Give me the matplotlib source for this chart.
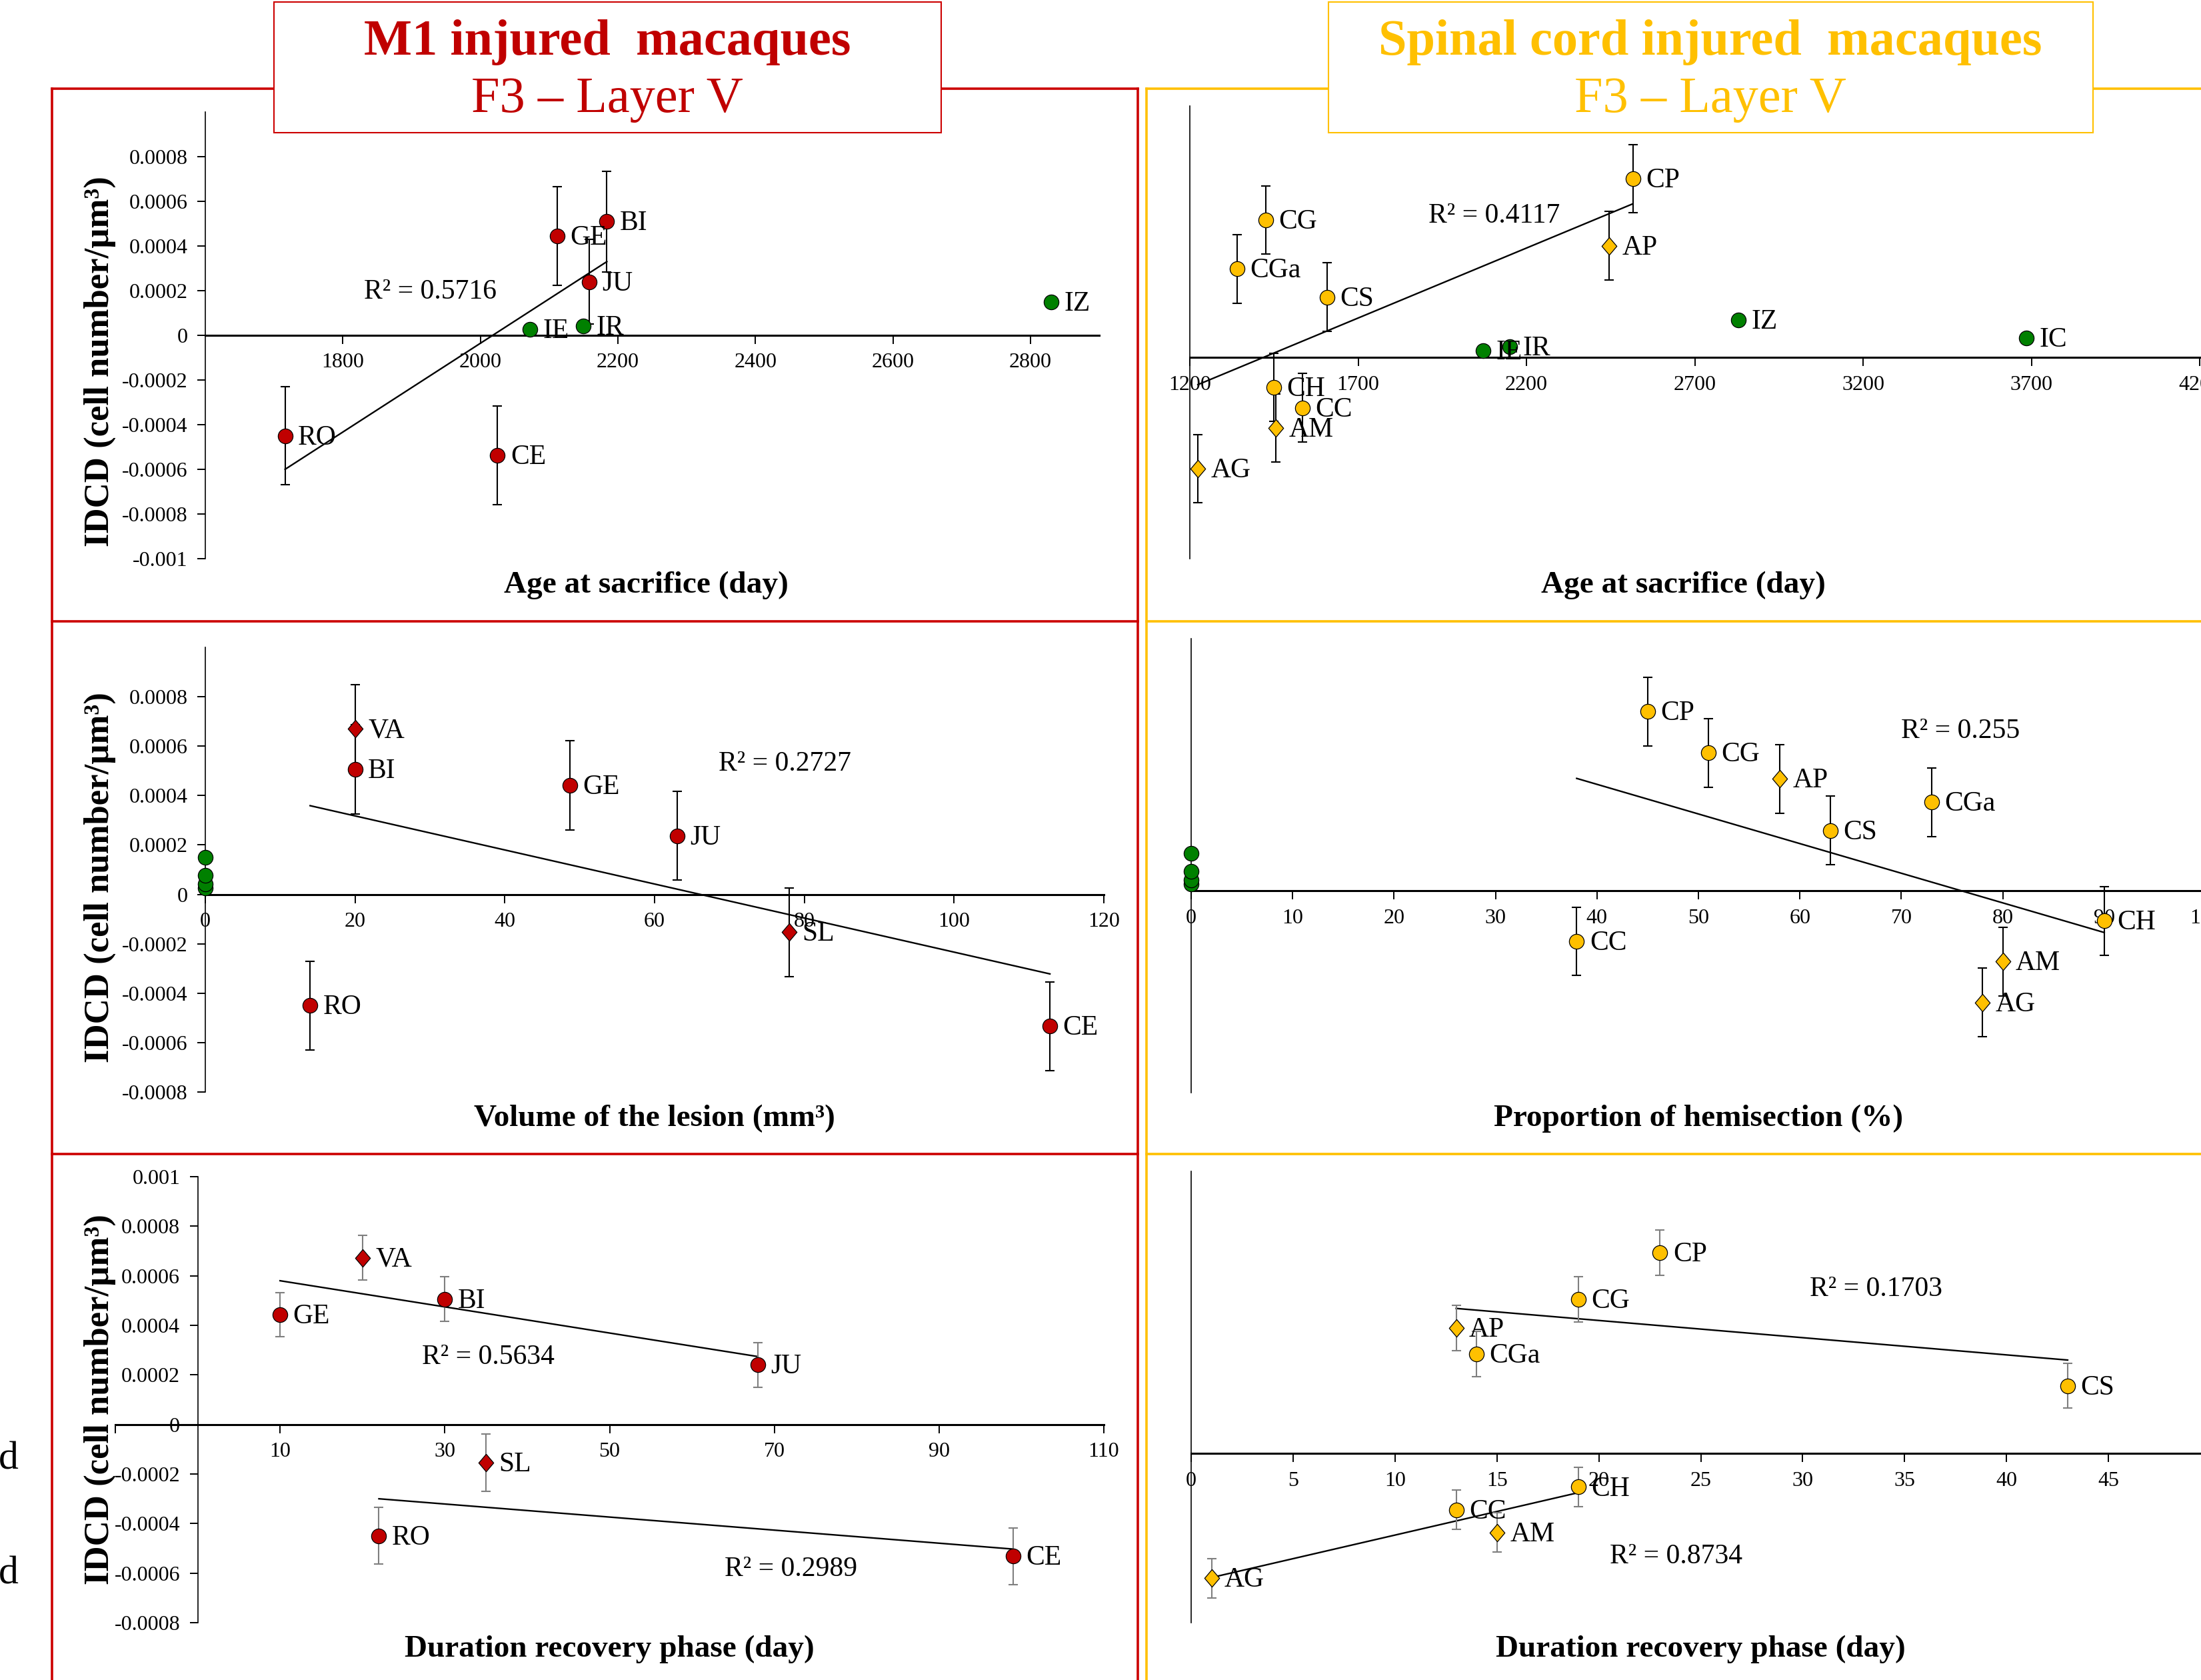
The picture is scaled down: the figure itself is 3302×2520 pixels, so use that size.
import matplotlib.pyplot as plt
from matplotlib.patches import Rectangle
from matplotlib.lines import Line2D

plt.rcParams['font.family'] = ['Liberation Serif', 'DejaVu Serif']

# ---------------- data : IDCD (cell number / µm3) ----------------
# intact controls (green)
ctrl_names = ['IE', 'IR', 'IC', 'IZ']
ctrl_idcd = [0.000027, 0.000043, 0.000078, 0.00015]
ctrl_err = [0.000008, 0.000008, 0.000008, 0.00001]
ctrl_age = [2072, 2150, 3686, 2830]

# M1 injured : age at sacrifice
m1_age_names = ['RO', 'CE', 'GE', 'BI', 'JU']
m1_age = [1716, 2025, 2112, 2184, 2158]
m1_age_idcd = [-0.00045, -0.000537, 0.000445, 0.00051, 0.00024]
m1_age_err = [0.00022, 0.00022, 0.000222, 0.000225, 0.00019]
m1_age_trend_x = [1716, 2184]
m1_age_trend_y = [-0.0006, 0.00033]
m1_age_r2 = 'R² = 0.5716'

# M1 injured : lesion volume
m1_vol_names = ['VA', 'BI', 'GE', 'JU', 'SL', 'RO', 'CE']
m1_vol = [20, 20, 48.7, 63, 78, 14, 112.8]
m1_vol_idcd = [0.00067, 0.000506, 0.000441, 0.000237, -0.000153, -0.00045, -0.000534]
m1_vol_err = [0.00018, 0.00018, 0.00018, 0.00018, 0.00018, 0.00018, 0.00018]
m1_vol_trend_x = [14, 112.8]
m1_vol_trend_y = [0.000359, -0.000322]
m1_vol_r2 = 'R² = 0.2727'

# M1 injured : duration of recovery phase
m1_rec_names = ['GE', 'VA', 'BI', 'JU', 'SL', 'RO', 'CE']
m1_rec = [10, 20, 30, 68, 35, 22, 99]
m1_rec_idcd = [0.000443, 0.000672, 0.000506, 0.00024, -0.000154, -0.000449, -0.000532]
m1_rec_err = [0.00009, 0.00009, 0.00009, 0.00009, 0.000115, 0.000115, 0.000115]
m1_rec_trend_hi_x = [10, 68]
m1_rec_trend_hi_y = [0.00058, 0.000274]
m1_rec_trend_lo_x = [22, 99]
m1_rec_trend_lo_y = [-0.0003, -0.000503]
m1_rec_r2_hi = 'R² = 0.5634'
m1_rec_r2_lo = 'R² = 0.2989'

# spinal cord injured
sc_names = ['CP', 'CG', 'CGa', 'CS', 'AP', 'CH', 'CC', 'AM', 'AG']
sc_idcd = [0.000711, 0.000547, 0.000352, 0.00024, 0.000444, -0.000119, -0.0002, -0.00028, -0.000442]
sc_err = [0.000136, 0.000136, 0.000136, 0.000136, 0.000136, 0.000136, 0.000136, 0.000136, 0.000136]
sc_age = [2516, 1425, 1340, 1607, 2445, 1449, 1534, 1455, 1224]
sc_age_trend_x = [1224, 2516]
sc_age_trend_y = [-0.000108, 0.000611]
sc_age_r2 = 'R² = 0.4117'

sc_hemi = [45, 51, 73, 63, 58, 90, 38, 80, 78]
sc_hemi_trend_x = [38, 90]
sc_hemi_trend_y = [0.000446, -0.000165]
sc_hemi_r2 = 'R² = 0.255'

sc_rec = [23, 19, 14, 43, 13, 19, 13, 15, 1]
sc_rec_err = [0.00008, 0.00008, 0.00008, 0.00008, 0.00008, 0.00007, 0.00007, 0.00007, 0.00007]
sc_rec_trend_hi_x = [13, 43]
sc_rec_trend_hi_y = [0.000514, 0.000331]
sc_rec_trend_lo_x = [1, 19]
sc_rec_trend_lo_y = [-0.00044, -0.000139]
sc_rec_r2_hi = 'R² = 0.1703'
sc_rec_r2_lo = 'R² = 0.8734'

diamond_ids = {'VA', 'SL', 'AP', 'AM', 'AG'}

yt_a = [0.0008, 0.0006, 0.0004, 0.0002, 0, -0.0002, -0.0004, -0.0006, -0.0008, -0.001]
yt_b = [0.0008, 0.0006, 0.0004, 0.0002, 0, -0.0002, -0.0004, -0.0006, -0.0008]
yt_e = [0.001, 0.0008, 0.0006, 0.0004, 0.0002, 0, -0.0002, -0.0004, -0.0006, -0.0008]

# ---------------- figure ----------------
W, H = 3302, 2520
DPI = 100
RED = '#C00000'
FRAME_RED = '#CC0000'
GOLD = '#FFC000'
GREEN = '#008000'
GREY = '#7F7F7F'

fig = plt.figure(figsize=(W / DPI, H / DPI), dpi=DPI)
fig.patch.set_facecolor('white')

DIAMOND = [(0, 1), (0.85, 0), (0, -1), (-0.85, 0), (0, 1)]


def fx(px):
    return px / W


def fy(py):
    return 1 - py / H


def add_ax(x0, y0, x1, y1):
    return fig.add_axes([fx(x0), fy(y1), (x1 - x0) / W, (y1 - y0) / H])


def setup(ax, xlim, ylim, xticks, yticks=None, ycross=None, xlabels=None):
    ax.set_xlim(xlim)
    ax.set_ylim(ylim)
    ax.patch.set_alpha(0)
    ax.spines['top'].set_visible(False)
    ax.spines['right'].set_visible(False)
    ax.spines['bottom'].set_position(('data', 0))
    ax.spines['bottom'].set_linewidth(2.2)
    ax.spines['left'].set_linewidth(1.2)
    if ycross is not None:
        ax.spines['left'].set_position(('data', ycross))
    ax.set_xticks(xticks)
    ax.set_xticklabels(xlabels if xlabels is not None else [str(t) for t in xticks])
    ax.tick_params(axis='x', direction='out', length=9, width=1.4, pad=10, labelsize=23)
    if yticks:
        ax.set_yticks(yticks)
        ax.set_yticklabels([f'{v:g}' for v in yticks])
        ax.tick_params(axis='y', direction='out', length=9, width=1.4, pad=10, labelsize=23)
    else:
        ax.set_yticks([])


def points(ax, names, xs, ys, errs, face, ecolor, labels=True):
    for n, xv, yv, ev in zip(names, xs, ys, errs):
        diamond = n in diamond_ids
        ax.errorbar([xv], [yv], yerr=[ev], fmt='none', ecolor=ecolor, elinewidth=1.5,
                    capsize=5, capthick=1.5, clip_on=False, zorder=3)
        ax.plot([xv], [yv], marker=DIAMOND if diamond else 'o', ms=19 if diamond else 16,
                mfc=face, mec='black', mew=0.9, ls='none', clip_on=False, zorder=4)
        if labels:
            ax.annotate(n, (xv, yv), xytext=(14, -2), textcoords='offset points',
                        fontsize=30, va='center', ha='left', zorder=5)


def trend(ax, xs, ys):
    ax.plot(xs, ys, color='black', lw=1.7, zorder=2)


# ---- panel A : M1, age ----
ax = add_ax(308, 168, 1649, 838)
setup(ax, (1600, 2900), (-0.001, 0.001), [1800, 2000, 2200, 2400, 2600, 2800], yt_a)
trend(ax, m1_age_trend_x, m1_age_trend_y)
points(ax, m1_age_names, m1_age, m1_age_idcd, m1_age_err, RED, 'black')
m1_ctrl = [0, 1, 3]
points(ax, [ctrl_names[i] for i in m1_ctrl], [ctrl_age[i] for i in m1_ctrl],
       [ctrl_idcd[i] for i in m1_ctrl], [ctrl_err[i] for i in m1_ctrl], GREEN, 'black')
ax.text(1927, 0.000194, m1_age_r2, fontsize=30, ha='center', va='center')

# ---- panel C : SCI, age ----
ax = add_ax(1785, 159, 3300, 838)
setup(ax, (1200, 4200), (-0.0008, 0.001), [1200, 1700, 2200, 2700, 3200, 3700, 4200])
trend(ax, sc_age_trend_x, sc_age_trend_y)
points(ax, sc_names, sc_age, sc_idcd, sc_err, GOLD, 'black')
points(ax, ctrl_names, ctrl_age, ctrl_idcd, ctrl_err, GREEN, 'black')
ax.text(2105, 0.000563, sc_age_r2, fontsize=30, ha='center', va='center')

# ---- panel B : M1, lesion volume ----
ax = add_ax(308, 971, 1656, 1638)
setup(ax, (0, 120), (-0.0008, 0.001), [0, 20, 40, 60, 80, 100, 120], yt_b)
trend(ax, m1_vol_trend_x, m1_vol_trend_y)
points(ax, m1_vol_names, m1_vol, m1_vol_idcd, m1_vol_err, RED, 'black')
points(ax, ctrl_names, [0] * len(ctrl_names), ctrl_idcd, ctrl_err, GREEN, 'black', labels=False)
ax.text(77.4, 0.000528, m1_vol_r2, fontsize=30, ha='center', va='center')

# ---- panel D : SCI, hemisection ----
ax = add_ax(1787, 958, 3309, 1639)
setup(ax, (0, 100), (-0.0008, 0.001), [0, 10, 20, 30, 40, 50, 60, 70, 80, 90, 100])
trend(ax, sc_hemi_trend_x, sc_hemi_trend_y)
points(ax, sc_names, sc_hemi, sc_idcd, sc_err, GOLD, 'black')
points(ax, ctrl_names, [0] * len(ctrl_names), ctrl_idcd, ctrl_err, GREEN, 'black', labels=False)
ax.text(75.8, 0.000633, sc_hemi_r2, fontsize=30, ha='center', va='center')

# ---- panel E : M1, recovery ----
ax = add_ax(173, 1765, 1656, 2434)
setup(ax, (-10, 110), (-0.0008, 0.001), [-10, 10, 30, 50, 70, 90, 110], yt_e, ycross=0,
      xlabels=['', '10', '30', '50', '70', '90', '110'])
trend(ax, m1_rec_trend_hi_x, m1_rec_trend_hi_y)
trend(ax, m1_rec_trend_lo_x, m1_rec_trend_lo_y)
points(ax, m1_rec_names, m1_rec, m1_rec_idcd, m1_rec_err, RED, GREY)
ax.text(35.3, 0.000271, m1_rec_r2_hi, fontsize=30, ha='center', va='center')
ax.text(72, -0.000585, m1_rec_r2_lo, fontsize=30, ha='center', va='center')

# ---- panel F : SCI, recovery ----
ax = add_ax(1787, 1757, 3316, 2434)
setup(ax, (0, 50), (-0.0006, 0.001), [0, 5, 10, 15, 20, 25, 30, 35, 40, 45, 50])
trend(ax, sc_rec_trend_hi_x, sc_rec_trend_hi_y)
trend(ax, sc_rec_trend_lo_x, sc_rec_trend_lo_y)
points(ax, sc_names, sc_rec, sc_idcd, sc_rec_err, GOLD, GREY)
ax.text(33.6, 0.000582, sc_rec_r2_hi, fontsize=30, ha='center', va='center')
ax.text(23.8, -0.000366, sc_rec_r2_lo, fontsize=30, ha='center', va='center')

# ---------------- axis titles ----------------
xlab = dict(fontsize=34, fontweight='bold', ha='center', va='center')
fig.text(fx(969), fy(878), 'Age at sacrifice (day)', **xlab)
fig.text(fx(2525), fy(878), 'Age at sacrifice (day)', **xlab)
fig.text(fx(982), fy(1678), 'Volume of the lesion (mm³)', **xlab)
fig.text(fx(2548), fy(1678), 'Proportion of hemisection (%)', **xlab)
fig.text(fx(914), fy(2474), 'Duration recovery phase (day)', **xlab)
fig.text(fx(2551), fy(2474), 'Duration recovery phase (day)', **xlab)

ylab = dict(fontsize=38, fontweight='bold', ha='center', va='center', rotation=90)
for yc in (542, 1316, 2099):
    fig.text(fx(150), fy(yc), 'IDCD (cell number/µm³)', **ylab)

# cut-off letters at the left edge
fig.text(fx(-2), fy(2190), 'd', fontsize=43, ha='left', va='center')
fig.text(fx(-2), fy(2362), 'd', fontsize=43, ha='left', va='center')

# ---------------- frames ----------------
def hline(x0, x1, y, color):
    fig.add_artist(Line2D([fx(x0), fx(x1)], [fy(y), fy(y)], color=color, lw=2.6))


def vline(x, y0, y1, color):
    fig.add_artist(Line2D([fx(x), fx(x)], [fy(y0), fy(y1)], color=color, lw=2.6))


for yy in (133, 932, 1731):
    hline(78, 1707, yy, FRAME_RED)
    hline(1720, 3310, yy, GOLD)
vline(78, 133, 2530, FRAME_RED)
vline(1707, 133, 2530, FRAME_RED)
vline(1720, 133, 2530, GOLD)

fig.add_artist(Rectangle((fx(411), fy(199)), (1412 - 411) / W, (199 - 3) / H,
                         transform=fig.transFigure, facecolor='white', edgecolor=FRAME_RED,
                         lw=1.5, zorder=6))
fig.add_artist(Rectangle((fx(1993), fy(199)), (3140 - 1993) / W, (199 - 3) / H,
                         transform=fig.transFigure, facecolor='white', edgecolor=GOLD,
                         lw=1.5, zorder=6))
fig.text(fx(911), fy(63), 'M1 injured  macaques', fontsize=55, fontweight='bold',
         color=RED, ha='center', va='center', zorder=7)
fig.text(fx(911), fy(150), 'F3 – Layer V', fontsize=55, color=RED,
         ha='center', va='center', zorder=7)
fig.text(fx(2566), fy(63), 'Spinal cord injured  macaques', fontsize=55, fontweight='bold',
         color=GOLD, ha='center', va='center', zorder=7)
fig.text(fx(2566), fy(150), 'F3 – Layer V', fontsize=55, color=GOLD,
         ha='center', va='center', zorder=7)

fig.savefig('out.png', dpi=DPI)
